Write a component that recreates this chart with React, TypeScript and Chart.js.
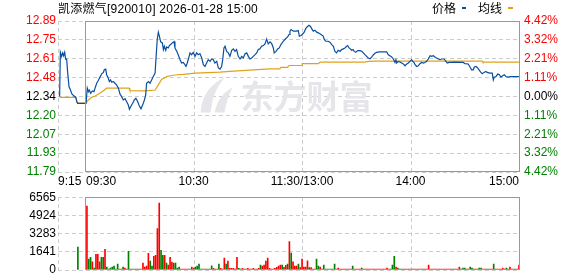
import { useEffect, useRef } from 'react';
import { Chart, registerables } from 'chart.js';

Chart.register(...registerables);

// ---------------- data ----------------
const titleText = '凯添燃气[920010] 2026-01-28 15:00';
const legendNames = ['价格', '均线'];
const watermarkText = '东方财富';

const prevClose = 12.34;
const maxPct = 4.42;
// bottom -> top
const priceTickLabels = ['11.79', '11.93', '12.07', '12.20', '12.34', '12.48', '12.61', '12.75', '12.89'];
const pctTickLabels = ['4.42%', '3.32%', '2.21%', '1.11%', '0.00%', '1.11%', '2.21%', '3.32%', '4.42%'];
const volTickValues = [0, 1641, 3283, 4924, 6565];

// minutes counted from 9:15 (9:30 = 15, 15:00 = 255)
const timeLabels = ['9:15', '09:30', '10:30', '11:30/13:00', '14:00', '15:00'];
const timeLabelMinutes = [0, 15, 75, 135, 195, 255];
const gridMinutes = [0, 75, 135, 195];
const openMinute = 15;
const closeMinute = 255;

// [minute, price]
const pricePoints: [number, number][] = [
  [0.9, 12.34], [1.3, 12.66], [2.0, 12.63], [2.6, 12.655], [3.1, 12.635], [3.7, 12.66], [4.2, 12.61], [4.8, 12.61],
  [5.3, 12.52], [6.1, 12.41], [6.8, 12.39], [7.6, 12.36], [8.7, 12.345], [9.8, 12.335], [10.5, 12.30], [10.9, 12.29], [15.0, 12.29],
  [15.5, 12.29], [16.2, 12.40], [16.8, 12.375], [17.3, 12.387], [18.1, 12.363], [19.0, 12.38], [19.9, 12.375], [20.5, 12.40],
  [21.4, 12.436], [22.3, 12.455], [23.2, 12.48], [24.2, 12.504], [25.1, 12.514], [25.6, 12.533], [26.4, 12.538], [26.9, 12.497],
  [27.8, 12.473], [28.4, 12.448], [29.1, 12.46], [29.7, 12.443], [30.6, 12.448], [31.5, 12.436], [32.4, 12.424], [33.4, 12.40],
  [34.3, 12.358], [35.2, 12.339], [36.1, 12.315], [37.1, 12.324], [38.0, 12.302], [38.9, 12.278], [39.5, 12.247], [40.4, 12.271],
  [41.3, 12.291], [42.2, 12.315], [43.1, 12.327], [44.1, 12.302], [45.0, 12.271], [45.9, 12.251], [46.8, 12.278], [47.8, 12.315],
  [48.5, 12.351], [49.0, 12.436], [50.0, 12.448], [50.9, 12.436], [51.8, 12.46], [52.7, 12.484], [53.7, 12.509], [54.4, 12.655],
  [54.9, 12.752], [55.5, 12.805], [56.0, 12.78], [56.8, 12.735], [57.7, 12.727], [58.3, 12.679], [58.8, 12.703], [59.6, 12.674],
  [60.1, 12.698], [61.0, 12.691], [61.6, 12.708], [62.3, 12.715], [63.2, 12.727], [64.2, 12.737], [64.7, 12.691], [65.7, 12.666],
  [66.5, 12.642], [67.5, 12.606], [68.4, 12.582], [69.3, 12.586], [70.2, 12.57], [70.8, 12.557], [71.5, 12.582], [72.3, 12.618],
  [73.0, 12.655], [73.9, 12.642], [74.8, 12.659], [75.8, 12.63], [76.7, 12.655], [77.6, 12.642], [78.5, 12.65], [79.5, 12.618],
  [80.4, 12.57], [81.3, 12.557], [82.2, 12.582], [83.1, 12.606], [84.1, 12.594], [85.0, 12.611], [85.9, 12.606], [86.8, 12.582],
  [87.8, 12.594], [88.7, 12.546], [89.6, 12.538], [90.5, 12.557], [91.1, 12.606], [91.8, 12.691], [92.4, 12.703], [93.3, 12.666],
  [94.2, 12.655], [95.1, 12.63], [96.1, 12.674], [97.0, 12.684], [97.9, 12.666], [98.8, 12.679], [99.7, 12.63], [100.7, 12.611],
  [101.6, 12.63], [102.5, 12.618], [103.4, 12.647], [104.4, 12.655], [105.3, 12.63], [106.2, 12.611], [107.1, 12.618], [108.0, 12.63],
  [109.0, 12.642], [109.9, 12.655], [110.8, 12.679], [111.7, 12.684], [112.6, 12.703], [113.6, 12.708], [114.5, 12.72], [115.4, 12.755],
  [116.3, 12.72], [117.3, 12.735], [118.2, 12.722], [119.1, 12.691], [119.6, 12.655], [120.6, 12.666], [121.5, 12.684], [122.4, 12.691],
  [123.3, 12.715], [124.6, 12.739], [125.9, 12.757], [127.0, 12.771], [127.8, 12.788], [128.3, 12.812], [128.9, 12.824], [130.2, 12.812],
  [132.0, 12.812], [132.9, 12.817], [133.5, 12.776], [134.4, 12.781], [135.1, 12.788], [136.2, 12.805], [137.0, 12.83], [137.9, 12.844],
  [138.8, 12.854], [139.8, 12.844], [140.3, 12.83], [141.2, 12.812], [142.1, 12.819], [143.1, 12.805], [144.0, 12.8], [145.5, 12.788],
  [146.7, 12.776], [147.3, 12.752], [148.1, 12.739], [149.5, 12.739], [150.4, 12.732], [151.4, 12.715], [152.3, 12.703], [153.2, 12.666],
  [154.1, 12.655], [155.0, 12.674], [156.0, 12.666], [156.9, 12.679], [157.8, 12.684], [158.7, 12.691], [159.7, 12.703], [160.2, 12.708],
  [161.0, 12.691], [161.7, 12.684], [162.4, 12.674], [163.2, 12.679], [163.9, 12.666], [164.7, 12.659], [165.8, 12.672], [167.0, 12.672],
  [168.0, 12.666], [168.9, 12.655], [169.8, 12.642], [170.7, 12.63], [171.6, 12.618], [172.6, 12.613], [173.5, 12.625], [174.4, 12.64],
  [175.3, 12.652], [176.3, 12.659], [177.7, 12.662], [181.8, 12.662], [182.7, 12.642], [183.6, 12.635], [184.6, 12.626], [185.5, 12.611],
  [186.4, 12.586], [186.9, 12.606], [187.3, 12.582], [188.2, 12.594], [189.2, 12.589], [190.1, 12.582], [191.0, 12.575], [191.9, 12.562],
  [192.9, 12.575], [193.8, 12.582], [194.7, 12.594], [195.6, 12.606], [196.2, 12.594], [196.9, 12.586], [197.5, 12.57], [198.4, 12.557],
  [199.3, 12.562], [200.2, 12.577], [201.2, 12.586], [202.1, 12.582], [203.0, 12.586], [203.9, 12.594], [204.8, 12.611], [205.8, 12.635],
  [206.7, 12.63], [207.6, 12.635], [208.5, 12.626], [209.4, 12.618], [210.4, 12.611], [211.3, 12.606], [212.2, 12.611], [213.5, 12.611],
  [214.6, 12.594], [215.3, 12.582], [216.4, 12.586], [219.6, 12.589], [224.2, 12.586], [225.1, 12.577], [226.9, 12.575], [227.9, 12.553],
  [228.8, 12.533], [229.7, 12.533], [230.3, 12.553], [231.2, 12.557], [231.9, 12.55], [232.9, 12.533], [233.8, 12.516], [234.7, 12.504],
  [235.6, 12.514], [236.7, 12.521], [237.4, 12.514], [238.9, 12.509], [240.2, 12.509], [240.8, 12.46], [241.3, 12.48], [242.3, 12.484],
  [243.2, 12.502], [244.1, 12.497], [245.0, 12.48], [245.9, 12.49], [246.9, 12.497], [247.8, 12.484], [249.1, 12.48], [250.4, 12.484],
  [255.0, 12.484],
];

// [minute, average price]
const avgPoints: [number, number][] = [
  [0.9, 12.334], [9.8, 12.334], [10.5, 12.295], [15.5, 12.292], [16.8, 12.315], [18.6, 12.334], [20.5, 12.344], [23.2, 12.363],
  [25.1, 12.382], [26.9, 12.4], [39.3, 12.4], [39.8, 12.382], [47.8, 12.38], [53.7, 12.387], [55.5, 12.424], [57.4, 12.465],
  [59.2, 12.475], [60.1, 12.484], [62.3, 12.49], [65.7, 12.497], [69.3, 12.5], [76.0, 12.509], [89.6, 12.516], [95.1, 12.521],
  [108.0, 12.533], [117.3, 12.54], [122.7, 12.54], [123.3, 12.55], [127.0, 12.55], [127.8, 12.564], [135.0, 12.564], [135.1, 12.577],
  [144.0, 12.577], [145.0, 12.589], [169.8, 12.589], [171.6, 12.594], [175.3, 12.596], [234.7, 12.596], [235.0, 12.588], [255.0, 12.588],
];

// call-auction volume
const auctionVolMinutes = [11];
const auctionVolValues = [2067];
const auctionVolDirs = 'G';

// one bar per trading minute (9:31 .. 15:00)
const volValues = [
  5767, 976, 1153, 739, 180, 1419, 1419, 739, 1153, 1153, 1863, 266, 89, 177, 266, 355, 89, 532, 89, 89,
  266, 177, 89, 1686, 89, 89, 89, 89, 89, 89, 89, 621, 266, 355, 1508, 798, 355, 1242, 1331, 3726,
  6033, 1774, 1331, 1331, 621, 444, 1153, 710, 621, 621, 177, 266, 89, 89, 89, 89, 89, 89, 266, 177,
  266, 355, 532, 89, 89, 89, 89, 89, 89, 384, 150, 89, 89, 532, 150, 89, 1064, 532, 798, 150,
  150, 150, 89, 1153, 150, 89, 150, 89, 89, 150, 89, 89, 150, 89, 89, 150, 443, 355, 443, 798,
  1064, 150, 89, 89, 150, 236, 355, 443, 443, 236, 414, 532, 2572, 1537, 739, 355, 355, 532, 207, 976,
  266, 266, 828, 207, 207, 89, 89, 976, 355, 266, 89, 443, 89, 89, 89, 89, 89, 532, 89, 177,
  89, 89, 89, 89, 89, 89, 89, 355, 89, 89, 89, 89, 177, 89, 89, 89, 89, 89, 89, 89,
  89, 89, 89, 89, 89, 89, 177, 89, 89, 443, 1242, 266, 177, 89, 89, 89, 89, 89, 89, 89,
  89, 89, 89, 89, 89, 89, 89, 89, 89, 443, 89, 89, 89, 89, 89, 89, 89, 89, 89, 89,
  89, 89, 89, 89, 89, 89, 266, 89, 177, 177, 89, 89, 266, 177, 89, 89, 89, 177, 177, 89,
  89, 89, 89, 89, 89, 532, 89, 89, 89, 89, 177, 89, 177, 89, 266, 89, 89, 89, 89, 443,
];
// R = up (red), G = down (green)
const volDirs = [
  'RGGRGRRRGGRGGGGGGGRG', 'GRRGRGGRGGRRRRRGGRRR', 'RGGRGRRRGGGGRRRRRGRR', 'GGGGGRGGRGRGRGRRRGRR',
  'RRRRGGRRRRRRRRRRGRRR', 'RRRRRRRRGRRGRGRRRGRR', 'RRRGRRRGGRGGRGGGGGRR', 'RRRRGRRGRRRRGRRRRRRR',
  'RRRRRRRRGGGRGGGGRRRG', 'RRRRGRGRRRRRRGRRRRRR', 'RRGRRRRGGGGRGGRRRGGR', 'RGRRRGRRRRRRGRRRGRRR',
].join('');

// ---------------- styles ----------------
const FONT = '"Liberation Sans", Arial, "Noto Sans CJK SC", sans-serif';
const CJK = '"Noto Sans CJK SC", "Liberation Sans", sans-serif';
const RED = '#ff0000';
const GREEN = '#008000';
const DARK = '#000000';
const BLUE = '#0a4f9f';
const ORANGE = '#e0a11c';
const GRID = '#cccccc';
const BOX = '#999999';
const DASH = [4, 3];

function drawVerticalGrid(chart: any) {
  const { ctx, chartArea: a } = chart;
  const xs = chart.scales.x;
  ctx.save();
  ctx.strokeStyle = GRID;
  ctx.lineWidth = 1;
  ctx.setLineDash(DASH);
  for (const m of gridMinutes) {
    const x = Math.round(xs.getPixelForValue(m)) + 0.5;
    ctx.beginPath();
    ctx.moveTo(x, a.top);
    ctx.lineTo(x, a.bottom);
    ctx.stroke();
  }
  ctx.restore();
}

function drawBox(chart: any) {
  const { ctx, chartArea: a } = chart;
  const xs = chart.scales.x;
  const l = Math.round(xs.getPixelForValue(openMinute)) + 0.5;
  const r = Math.round(xs.getPixelForValue(closeMinute)) + 0.5;
  const t = Math.round(a.top) + 0.5;
  const b = Math.round(a.bottom) - 0.5;
  ctx.save();
  ctx.strokeStyle = BOX;
  ctx.lineWidth = 1;
  ctx.setLineDash([]);
  ctx.strokeRect(l, t, r - l, b - t);
  ctx.restore();
}

const pricePlugin = {
  id: 'priceDecor',
  beforeDatasetsDraw(chart: any) {
    const { ctx, chartArea: a } = chart;
    const cx = (a.left + a.right) / 2;
    const cy = (a.top + a.bottom) / 2;
    ctx.save();
    ctx.fillStyle = '#e6e6ea';
    // logo swoosh
    const lx = cx - 90;
    ctx.beginPath();
    ctx.moveTo(lx + 2, cy + 16);
    ctx.quadraticCurveTo(lx + 4, cy - 9, lx + 26, cy - 19);
    ctx.quadraticCurveTo(lx + 14, cy - 5, lx + 12, cy + 16);
    ctx.closePath();
    ctx.fill();
    ctx.beginPath();
    ctx.moveTo(lx + 16, cy + 16);
    ctx.quadraticCurveTo(lx + 20, cy - 2, lx + 34, cy - 9);
    ctx.quadraticCurveTo(lx + 28, cy + 3, lx + 26, cy + 16);
    ctx.closePath();
    ctx.fill();
    ctx.font = `bold 33px ${CJK}`;
    ctx.textAlign = 'left';
    ctx.textBaseline = 'middle';
    ctx.fillText(watermarkText, cx - 48, cy);
    ctx.restore();
    drawVerticalGrid(chart);
  },
  afterDraw(chart: any) {
    const { ctx, chartArea: a } = chart;
    const xs = chart.scales.x;
    drawBox(chart);
    ctx.save();
    // time labels
    ctx.font = `12px ${FONT}`;
    ctx.fillStyle = DARK;
    ctx.textBaseline = 'middle';
    const aligns = ['left', 'left', 'center', 'center', 'center', 'right'];
    timeLabels.forEach((lab, i) => {
      ctx.textAlign = aligns[i];
      const x = xs.getPixelForValue(timeLabelMinutes[i]) + (i === 1 ? 1 : 0);
      ctx.fillText(lab, x, a.bottom + 9.5);
    });
    // title
    ctx.textAlign = 'left';
    ctx.textBaseline = 'alphabetic';
    (ctx as any).letterSpacing = '0.25px';
    ctx.fillText(titleText, a.left, 13);
    (ctx as any).letterSpacing = '0px';
    // legend
    ctx.font = `12px ${CJK}`;
    ctx.fillText(legendNames[0], 432, 13);
    ctx.fillStyle = BLUE;
    ctx.fillRect(462, 7, 4, 2);
    ctx.fillStyle = DARK;
    ctx.fillText(legendNames[1], 478, 13);
    ctx.fillStyle = ORANGE;
    ctx.fillRect(508, 7, 5, 2);
    ctx.restore();
  },
};

const volPlugin = {
  id: 'volDecor',
  beforeDatasetsDraw(chart: any) {
    drawVerticalGrid(chart);
  },
  afterDraw(chart: any) {
    drawBox(chart);
  },
};

export default function App() {
  const priceRef = useRef<HTMLCanvasElement>(null);
  const volRef = useRef<HTMLCanvasElement>(null);

  useEffect(() => {
    const yMax = prevClose * (1 + maxPct / 100);
    const yMin = prevClose * (1 - maxPct / 100);
    const yStep = (yMax - yMin) / (priceTickLabels.length - 1);
    const mid = (priceTickLabels.length - 1) / 2;
    const tickIndex = (v: number) => Math.round((v - yMin) / yStep);
    const levelColor = (i: number) => (i > mid ? RED : i === mid ? DARK : GREEN);
    const buildPriceTicks = (s: any) => {
      s.ticks = priceTickLabels.map((_, i) => ({ value: yMin + i * yStep }));
    };

    const priceChart = new Chart(priceRef.current as HTMLCanvasElement, {
      type: 'line',
      data: {
        datasets: [
          {
            label: legendNames[0],
            data: pricePoints.map(([x, y]) => ({ x, y })),
            borderColor: BLUE,
            borderWidth: 1.2,
            pointRadius: 0,
            tension: 0,
            fill: false,
          },
          {
            label: legendNames[1],
            data: avgPoints.map(([x, y]) => ({ x, y })),
            borderColor: ORANGE,
            borderWidth: 1.2,
            pointRadius: 0,
            tension: 0,
            fill: false,
          },
        ],
      },
      options: {
        animation: false,
        responsive: false,
        events: [],
        layout: { padding: { top: 21, bottom: 18, left: 0, right: 0 } },
        plugins: { legend: { display: false }, tooltip: { enabled: false } },
        scales: {
          x: { type: 'linear', min: 0, max: closeMinute, display: false, offset: false },
          y: {
            type: 'linear',
            position: 'left',
            min: yMin,
            max: yMax,
            afterBuildTicks: buildPriceTicks,
            afterFit: (s: any) => { s.width = 58; },
            grid: { color: GRID, lineWidth: 1, drawTicks: false },
            border: { display: false, dash: DASH },
            ticks: {
              autoSkip: false,
              padding: 2,
              font: { family: FONT, size: 12 },
              color: (c: any) => levelColor(tickIndex(c.tick.value)),
              callback: (v: any) => priceTickLabels[tickIndex(Number(v))],
            },
          },
          y2: {
            type: 'linear',
            position: 'right',
            min: yMin,
            max: yMax,
            afterBuildTicks: buildPriceTicks,
            afterFit: (s: any) => { s.width = 59; },
            grid: { display: false, drawTicks: false },
            border: { display: false },
            ticks: {
              autoSkip: false,
              padding: 5,
              font: { family: FONT, size: 12 },
              color: (c: any) => levelColor(tickIndex(c.tick.value)),
              callback: (v: any) => pctTickLabels[tickIndex(Number(v))],
            },
          },
        },
      } as any,
      plugins: [pricePlugin as any],
    });

    const barData = [
      ...auctionVolMinutes.map((m, i) => ({ x: m, y: auctionVolValues[i] })),
      ...volValues.map((v, i) => ({ x: openMinute + i + 1, y: v })),
    ];
    const barColors = [
      ...auctionVolDirs.split('').map((d) => (d === 'R' ? RED : GREEN)),
      ...volDirs.split('').map((d) => (d === 'R' ? RED : GREEN)),
    ];

    const volChart = new Chart(volRef.current as HTMLCanvasElement, {
      type: 'bar',
      data: {
        datasets: [
          {
            data: barData,
            backgroundColor: barColors,
            borderWidth: 0,
            barThickness: 1,
          },
        ],
      },
      options: {
        animation: false,
        responsive: false,
        events: [],
        layout: { padding: { top: 8, bottom: 14, left: 0, right: 59 } },
        plugins: { legend: { display: false }, tooltip: { enabled: false } },
        scales: {
          x: { type: 'linear', min: 0, max: closeMinute, display: false, offset: false, grid: { offset: false } },
          y: {
            type: 'linear',
            min: 0,
            max: volTickValues[volTickValues.length - 1],
            afterBuildTicks: (s: any) => { s.ticks = volTickValues.map((v) => ({ value: v })); },
            afterFit: (s: any) => { s.width = 58; },
            grid: { color: GRID, lineWidth: 1, drawTicks: false },
            border: { display: false, dash: DASH },
            ticks: {
              autoSkip: false,
              padding: 2,
              font: { family: FONT, size: 12 },
              color: DARK,
              callback: (v: any) => String(v),
            },
          },
        },
      } as any,
      plugins: [volPlugin as any],
    });

    return () => {
      priceChart.destroy();
      volChart.destroy();
    };
  }, []);

  return (
    <div style={{ position: 'fixed', left: 0, top: 0, width: 578, height: 276, overflow: 'hidden', background: '#fff' }}>
      <canvas ref={priceRef} width={578} height={190} style={{ position: 'absolute', left: 0, top: 0, display: 'block' }} />
      <canvas ref={volRef} width={578} height={96} style={{ position: 'absolute', left: 0, top: 188, display: 'block' }} />
    </div>
  );
}
